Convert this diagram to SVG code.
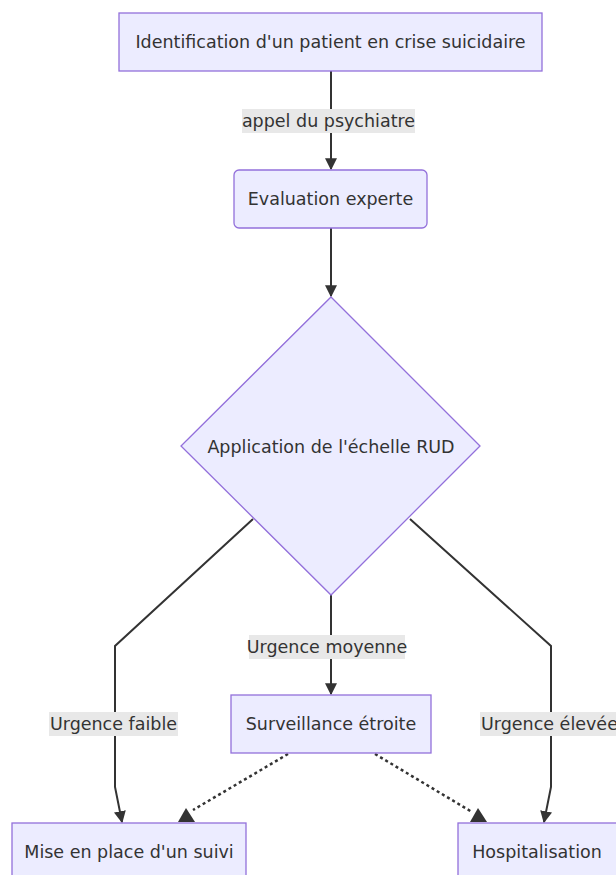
<svg xmlns="http://www.w3.org/2000/svg" width="616" height="875" viewBox="0 0 616 875">
<style>
.node{fill:#ECECFF;stroke:#9370DB;stroke-width:1.3}
.t{font-family:"DejaVu Sans","Open Sans",sans-serif;font-size:17.5px;fill:#333;text-anchor:middle;dominant-baseline:central}
.lbg{fill:#e8e8e8}
.e{fill:none;stroke:#333;stroke-width:2}
.d{fill:none;stroke:#333;stroke-width:2.5;stroke-dasharray:3 3}
.ah{fill:#333}
</style>
<defs>
<marker id="arr" viewBox="0 0 10 10" refX="9" refY="5" markerWidth="12" markerHeight="12" markerUnits="userSpaceOnUse" orient="auto">
<path d="M0,0 L10,5 L0,10 z" fill="#333"/>
</marker>
</defs>
<rect width="616" height="875" fill="#fff"/>
<g id="edges">
<path class="e" d="M331,71 L331,169" marker-end="url(#arr)"/>
<path class="e" d="M331,228 L331,296" marker-end="url(#arr)"/>
<path class="e" d="M331,595 L331,694" marker-end="url(#arr)"/>
<path class="e" d="M253,519 L115,646 L115,787 L122,822" marker-end="url(#arr)"/>
<path class="e" d="M410,519 L551,646 L551,787 L544,822" marker-end="url(#arr)"/>
<path class="d" d="M288,754 L193,810"/>
<path class="d" d="M375,754 L472,812"/>
<path class="ah" d="M186,808 L178,822 L195,822 z"/>
<path class="ah" d="M478,808 L470,822 L487,822 z"/>
</g>
<g id="edge-labels">
<rect class="lbg" x="242" y="109" width="173" height="24"/>
<text class="t" x="328.5" y="121">appel du psychiatre</text>
<rect class="lbg" x="249" y="635" width="156" height="24"/>
<text class="t" x="327" y="647">Urgence moyenne</text>
<rect class="lbg" x="49" y="712" width="129" height="24"/>
<text class="t" x="113.5" y="724">Urgence faible</text>
<rect class="lbg" x="480" y="712" width="140" height="24"/>
<text class="t" x="481" y="724" style="text-anchor:start">Urgence élevée</text>
</g>
<g id="n1">
<rect class="node" x="119" y="13" width="423" height="58"/>
<text class="t" x="330.5" y="42">Identification d'un patient en crise suicidaire</text>
</g>
<g id="n2">
<rect class="node" x="234" y="170" width="193" height="58" rx="5" ry="5"/>
<text class="t" x="330.5" y="199">Evaluation experte</text>
</g>
<g id="n3">
<polygon class="node" points="331,297 480,446 331,595 181,446"/>
<text class="t" x="331" y="447">Application de l'échelle RUD</text>
</g>
<g id="n4">
<rect class="node" x="231" y="695" width="200" height="58"/>
<text class="t" x="331" y="724">Surveillance étroite</text>
</g>
<g id="n5">
<rect class="node" x="12" y="823" width="234" height="58"/>
<text class="t" x="129" y="852">Mise en place d'un suivi</text>
</g>
<g id="n6">
<rect class="node" x="458" y="823" width="160" height="58"/>
<text class="t" x="537" y="852">Hospitalisation</text>
</g>
</svg>
